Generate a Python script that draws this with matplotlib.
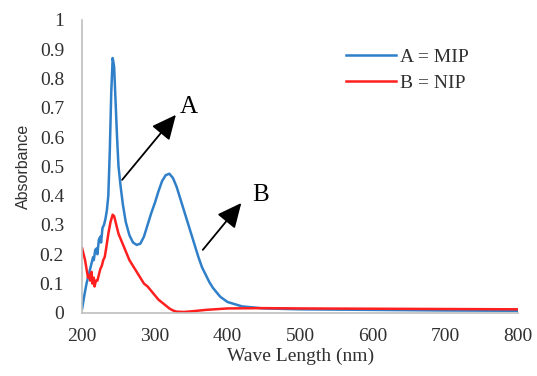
import numpy as np
import matplotlib.pyplot as plt

# wavelength (nm) / absorbance
wl_mip = [200, 203, 206, 209, 211, 213, 215, 216, 218, 220, 221, 223, 225, 226,
          228, 230, 232, 234, 236, 238, 240, 242, 244, 246, 248, 250, 253, 256,
          260, 265, 270, 275, 280, 285, 290, 295, 300, 305, 310, 315, 320, 325,
          330, 335, 340, 345, 350, 355, 360, 365, 370, 375, 380, 390, 400, 420,
          450, 500, 600, 700, 800]
abs_mip = [0.015, 0.06, 0.10, 0.13, 0.15, 0.17, 0.19, 0.18, 0.215, 0.22, 0.20,
           0.25, 0.26, 0.24, 0.29, 0.30, 0.32, 0.35, 0.40, 0.55, 0.75, 0.87,
           0.84, 0.72, 0.60, 0.50, 0.43, 0.37, 0.31, 0.265, 0.24, 0.232, 0.236,
           0.26, 0.30, 0.34, 0.375, 0.415, 0.45, 0.47, 0.475, 0.46, 0.43, 0.39,
           0.35, 0.31, 0.27, 0.23, 0.19, 0.155, 0.13, 0.105, 0.085, 0.055,
           0.037, 0.022, 0.015, 0.012, 0.010, 0.008, 0.007]

wl_nip = [200, 202, 204, 206, 208, 210, 211, 213, 214, 216, 217, 219, 221, 223,
          225, 227, 229, 231, 233, 236, 239, 242, 244, 247, 250, 255, 260, 265,
          270, 275, 280, 285, 290, 295, 300, 305, 310, 315, 320, 325, 330, 340,
          350, 370, 400, 450, 500, 600, 700, 800]
abs_nip = [0.22, 0.20, 0.18, 0.15, 0.12, 0.13, 0.11, 0.14, 0.10, 0.12, 0.09,
           0.11, 0.11, 0.13, 0.15, 0.16, 0.18, 0.19, 0.22, 0.27, 0.31, 0.335,
           0.33, 0.30, 0.27, 0.24, 0.21, 0.18, 0.16, 0.14, 0.12, 0.10, 0.09,
           0.075, 0.06, 0.045, 0.035, 0.025, 0.015, 0.008, 0.004, 0.003, 0.005,
           0.010, 0.015, 0.016, 0.015, 0.014, 0.013, 0.012]

x_ticks = [200, 300, 400, 500, 600, 700, 800]
y_ticks = [0, 0.1, 0.2, 0.3, 0.4, 0.5, 0.6, 0.7, 0.8, 0.9, 1]
y_tick_labels = ['0', '0.1', '0.2', '0.3', '0.4', '0.5', '0.6', '0.7', '0.8', '0.9', '1']

serif = 'Liberation Serif'
c_mip = '#2f7fc9'
c_nip = '#ff1f1f'
c_axis = '#bfbfbf'
c_text = '#303030'

fig = plt.figure(figsize=(5.37, 3.76), dpi=100)
ax = fig.add_axes([0.153, 0.168, 0.812, 0.779])

ax.plot(wl_mip, abs_mip, color=c_mip, lw=1.8, label='A = MIP')
ax.plot(wl_nip, abs_nip, color=c_nip, lw=1.8, label='B = NIP')

ax.set_xlim(200, 800)
ax.set_ylim(0, 1)
ax.set_xticks(x_ticks)
ax.set_yticks(y_ticks)
ax.set_yticklabels(y_tick_labels)
ax.tick_params(axis='x', length=0, pad=11, labelsize=14, colors=c_text)
ax.tick_params(axis='y', length=0, pad=13, labelsize=14, colors=c_text)
for lab in ax.get_xticklabels() + ax.get_yticklabels():
    lab.set_family(serif)

for s in ['top', 'right']:
    ax.spines[s].set_visible(False)
for s in ['left', 'bottom']:
    ax.spines[s].set_color(c_axis)
    ax.spines[s].set_linewidth(1.2)

ax.set_xlabel('Wave Length (nm)', family=serif, fontsize=14, color=c_text, labelpad=2)
ax.set_ylabel('Absorbance', family='Liberation Sans', fontsize=11.5, color=c_text, labelpad=6)

# annotation arrows
arrow_kw = dict(arrowstyle='-|>,head_length=0.75,head_width=0.35',
                color='black', lw=1.3, mutation_scale=20, shrinkA=0, shrinkB=0)
ax.annotate('', xy=(329, 0.676), xytext=(255, 0.454), arrowprops=arrow_kw)
ax.annotate('', xy=(419, 0.375), xytext=(366, 0.215), arrowprops=arrow_kw)
ax.text(346, 0.703, 'A', family=serif, fontsize=18, ha='center', va='center')
ax.text(445, 0.403, 'B', family=serif, fontsize=18, ha='center', va='center')

leg = ax.legend(loc='upper left', bbox_to_anchor=(0.582, 0.935), frameon=False,
                prop={'family': serif, 'size': 14}, handlelength=2.6,
                handletextpad=0.2, labelspacing=0.4, borderpad=0)
for t in leg.get_texts():
    t.set_color(c_text)

plt.savefig('out.png', dpi=100)
